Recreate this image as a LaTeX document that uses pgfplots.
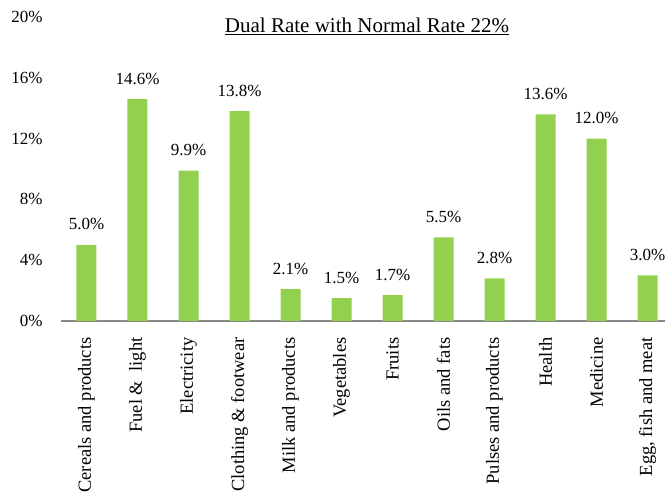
\documentclass[border=0pt]{standalone}
\usepackage{fontspec}
\setmainfont{Liberation Serif}
\usepackage{pgfplots}
\pgfplotsset{compat=1.18}
\definecolor{barg}{HTML}{92D050}
\definecolor{axgray}{HTML}{898989}
\begin{document}
\begin{tikzpicture}[font=\fontsize{17}{20}\selectfont]
\begin{axis}[
  scale only axis, width=604pt, height=304pt,
  xmin=-0.5, xmax=11.343, ymin=0, ymax=20,
  axis x line*=bottom, axis y line*=left,
  y axis line style={draw=none},
  x axis line style={axgray, line width=1.2pt},
  /pgf/number format/assume math mode=true,
  xtick={0,...,11},
  xticklabels={Cereals and products, Fuel \&\ \ light, Electricity, Clothing \&\ footwear, Milk and products, Vegetables, Fruits, Oils and fats, Pulses and products, Health, Medicine, {Egg, fish and meat}},
  x tick label style={yshift=-13pt, rotate=90, anchor=east, font=\fontsize{18.5}{21}\selectfont},
  major x tick style={draw=none},
  extra x ticks={-0.5,0.5,...,10.5},
  extra x tick labels={},
  extra x tick style={tick align=outside, major tick length=5pt, tick style={axgray, line width=1.2pt}},
  ytick={0,4,...,20},
  yticklabel={\pgfmathprintnumber{\tick}\%},
  y tick label style={xshift=-15pt, font=\fontsize{17}{20}\selectfont},
  ytick style={draw=none},
  clip=false,
  nodes near coords={\pgfmathprintnumber[fixed,precision=1,fixed zerofill]{\pgfplotspointmeta}\%},
  every node near coord/.append style={anchor=base, yshift=15pt, font=\fontsize{17}{20}\selectfont},
]
\addplot[ybar, bar width=20pt, fill=barg, draw=none] coordinates {
(0,5.0) (1,14.6) (2,9.9) (3,13.8) (4,2.1) (5,1.5) (6,1.7) (7,5.5) (8,2.8) (9,13.6) (10,12.0) (11,3.0)};
\node[anchor=base, font=\fontsize{21}{24}\selectfont] at (axis cs:5.5,18.95) {\underline{Dual Rate with Normal Rate 22\%}};
\coordinate (bl) at (rel axis cs:0,0);
\end{axis}
\pgfresetboundingbox
\path ([shift={(-61pt,-174pt)}]bl) rectangle ([shift={(604pt,321pt)}]bl);
\end{tikzpicture}
\end{document}
